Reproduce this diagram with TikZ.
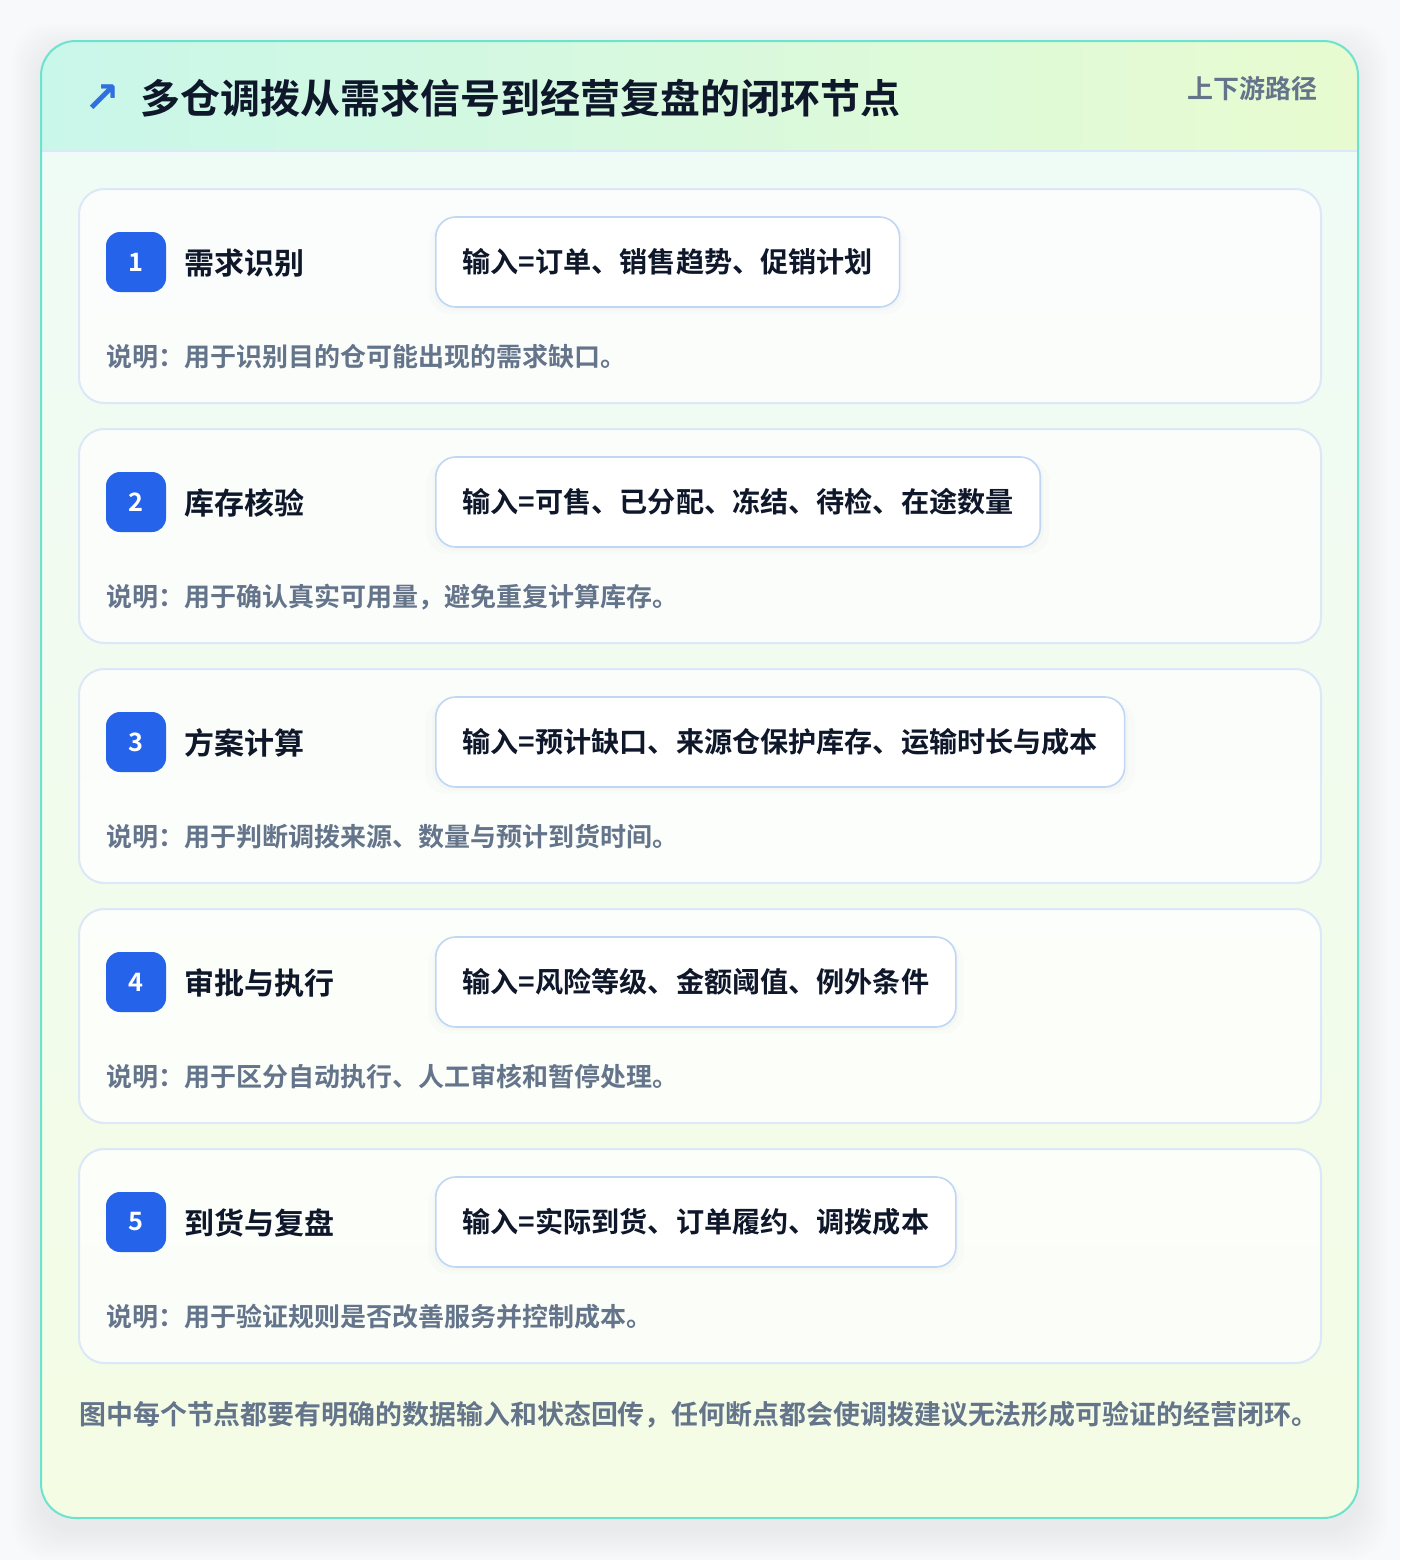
\documentclass[tikz,border=0pt]{standalone}
\usepackage{fontspec}
\setmainfont{Noto Sans CJK SC}[BoldFont={Noto Sans CJK SC Bold}]
\newfontfamily\symfont{DejaVu Sans}
\usetikzlibrary{shadows, positioning}

\definecolor{ink}{HTML}{0F172A}
\definecolor{slate}{HTML}{64748B}
\definecolor{badgeblue}{HTML}{2563EB}
\definecolor{arrowblue}{HTML}{2F6FE0}
\definecolor{panelline}{HTML}{6BE3CF}
\definecolor{cardline}{HTML}{DCE7F7}
\definecolor{inline}{HTML}{BFD6F5}
\definecolor{pagebg}{HTML}{F8F9FA}
\definecolor{headl}{HTML}{C9F7EA}
\definecolor{headr}{HTML}{E8FBD0}
\definecolor{bodytop}{HTML}{EFFBF7}
\definecolor{bodybot}{HTML}{F4FCE4}

\begin{document}
\begin{tikzpicture}[x=0.75pt, y=-0.75pt, font=\bfseries,
  card/.style={draw=cardline, line width=1.5pt, fill=white, fill opacity=0.75, rounded corners=19pt},
  badge/.style={fill=badgeblue, text=white, minimum size=45pt, inner sep=0pt, rounded corners=10.5pt,
    font=\bfseries\fontsize{19}{21}\selectfont},
  stepname/.style={anchor=west, inner sep=0pt, text=ink, font=\bfseries\fontsize{22.5}{26}\selectfont},
  inbox/.style={anchor=west, draw=inline, line width=1.2pt, fill=white, rounded corners=15pt,
    minimum height=67.5pt, inner xsep=20pt, text=ink, font=\bfseries\fontsize{21.1}{24}\selectfont,
    drop shadow={shadow xshift=0pt, shadow yshift=-4pt, shadow scale=1.03, opacity=0.025},
    drop shadow={shadow xshift=0pt, shadow yshift=-2pt, shadow scale=1.01, opacity=0.03}},
  note/.style={anchor=west, inner sep=0pt, text=slate, font=\bfseries\fontsize{19.5}{22}\selectfont}]

% page and soft shadow of the panel
\fill[pagebg] (0,0) rectangle (1400,1560);
\useasboundingbox (0,0) rectangle (1400,1560);
\foreach \s in {2,4,...,30}
  \fill[black, opacity=0.005, rounded corners=28pt] (41-\s,41-\s+12) rectangle (1358+\s,1518+\s+12);

% panel with header band
\begin{scope}
  \clip[rounded corners=26pt] (41,41) rectangle (1358,1518);
  \shade[top color=bodytop, bottom color=bodybot] (41,41) rectangle (1358,1518);
  \shade[left color=headl, right color=headr] (41,41) rectangle (1358,151);
  \draw[cardline, line width=1.5pt] (41,151) -- (1358,151);
\end{scope}
\draw[panelline, line width=1.5pt, rounded corners=26pt] (41,41) rectangle (1358,1518);

\node[inner sep=0pt, text=arrowblue, font=\symfont\bfseries\fontsize{32}{34}\selectfont] (icon) at (102,99) {↗};
\node[anchor=west, inner sep=0pt, text=ink, font=\bfseries\fontsize{30}{34}\selectfont] (title) at (140,98)
  {多仓调拨从需求信号到经营复盘的闭环节点};
\node[anchor=east, inner sep=0pt, text=slate, font=\bfseries\fontsize{19.5}{22}\selectfont] (route) at (1318,89)
  {上下游路径};

% the five steps
\foreach \n/\name/\input/\desc [count=\k from 0] in {
  1/{需求识别}/{订单、销售趋势、促销计划}/{用于识别目的仓可能出现的需求缺口。},
  2/{库存核验}/{可售、已分配、冻结、待检、在途数量}/{用于确认真实可用量，避免重复计算库存。},
  3/{方案计算}/{预计缺口、来源仓保护库存、运输时长与成本}/{用于判断调拨来源、数量与预计到货时间。},
  4/{审批与执行}/{风险等级、金额阈值、例外条件}/{用于区分自动执行、人工审核和暂停处理。},
  5/{到货与复盘}/{实际到货、订单履约、调拨成本}/{用于验证规则是否改善服务并控制成本。}}
{
  \pgfmathsetmacro\dy{240*\k}
  \draw[card] (79,189+\dy) rectangle (1321,403+\dy);
  \node[badge] (badge\n) at (136,262+\dy) {\n};
  \node[stepname] (name\n) at (184,263+\dy) {\name};
  \node[inbox] (input\n) at (435,262+\dy) {输入=\input};
  \node[note] (note\n) at (106,357+\dy) {说明：\desc};
}

\node[anchor=west, inner sep=0pt, text=slate, font=\bfseries\fontsize{20.2}{24}\selectfont] (footer) at (79,1415)
  {图中每个节点都要有明确的数据输入和状态回传，任何断点都会使调拨建议无法形成可验证的经营闭环。};
\end{tikzpicture}
\end{document}
